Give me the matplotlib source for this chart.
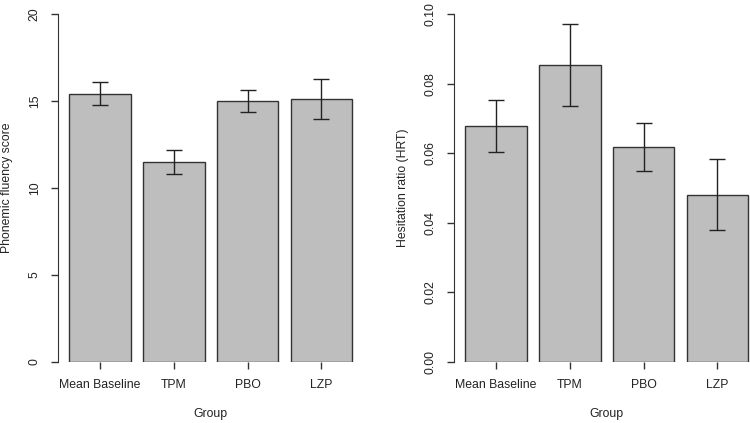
import matplotlib.pyplot as plt

plt.rcParams['font.family'] = ['Liberation Sans', 'DejaVu Sans']

groups = ['Mean Baseline', 'TPM', 'PBO', 'LZP']
fluency = [15.41, 11.50, 15.00, 15.12]
fluency_err = [0.66, 0.71, 0.65, 1.14]
hrt = [0.0678, 0.0853, 0.0618, 0.0481]
hrt_err = [0.0074, 0.0117, 0.0069, 0.0101]

W, H = 750, 423
fig = plt.figure(figsize=(W / 100, H / 100), dpi=100)

bar_w = 1.0
centers = [0.7 + 1.2 * i for i in range(len(groups))]
xlim = (0.016, 4.984)
px_per_unit = 61.5
ax_w = (xlim[1] - xlim[0]) * px_per_unit
y0_px, ytop_px = 362, 14
txt = '#222222'
fs = 8.8


def panel(left_px, vals, errs, ylim, yticks, fmt, ylabel):
    ax = fig.add_axes([left_px / W, (H - y0_px) / H, ax_w / W, (y0_px - ytop_px) / H])
    ax.bar(centers, vals, width=bar_w, color='#bebebe', edgecolor='#333333', linewidth=1.0)
    ax.errorbar(centers, vals, yerr=errs, fmt='none', ecolor='#222222',
                elinewidth=1.0, capsize=5.8, capthick=1.0)
    ax.set_xlim(*xlim)
    ax.set_ylim(*ylim)
    for s in ['top', 'right', 'bottom']:
        ax.spines[s].set_visible(False)
    ax.spines['left'].set_bounds(ylim[0], ylim[1])
    ax.spines['left'].set_color('#333333')
    ax.set_yticks(yticks)
    ax.set_yticklabels([fmt % v for v in yticks], rotation=90, va='center')
    ax.set_xticks(centers)
    ax.set_xticklabels(groups)
    ax.tick_params(axis='both', length=5, width=1.0, color='#333333',
                   labelsize=fs, labelcolor=txt, pad=7.5)
    mid_x = (left_px + ax_w / 2) / W
    fig.text(mid_x, 9 / H, 'Group', ha='center', va='center', fontsize=fs, color=txt)
    fig.text((left_px - 51) / W, (H - (y0_px + ytop_px) / 2) / H, ylabel,
             rotation=90, ha='center', va='center', fontsize=fs, color=txt)
    return ax


panel(58, fluency, fluency_err, (0, 20), [0, 5, 10, 15, 20], '%d',
      'Phonemic fluency score')
panel(454, hrt, hrt_err, (0, 0.1), [0, 0.02, 0.04, 0.06, 0.08, 0.10], '%.2f',
      'Hesitation ratio (HRT)')

fig.savefig('out.png', dpi=100)
